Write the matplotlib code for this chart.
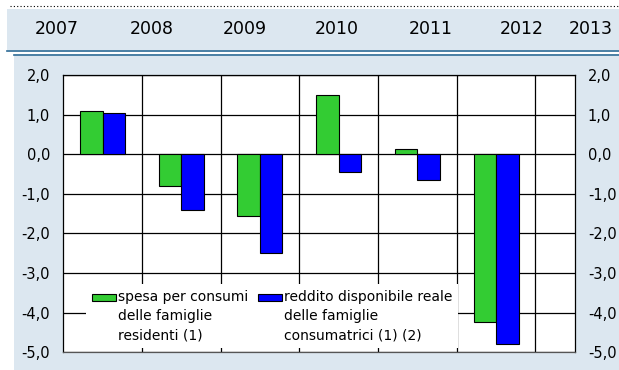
import matplotlib.pyplot as plt
from matplotlib.patches import Rectangle
from matplotlib.lines import Line2D
from matplotlib.ticker import FuncFormatter
from matplotlib.container import BarContainer
from matplotlib.legend_handler import HandlerPatch, update_from_first_child

# dati (variazioni percentuali)
anni = ['2007', '2008', '2009', '2010', '2011', '2012']
anni_testata = ['2007', '2008', '2009', '2010', '2011', '2012', '2013']
spesa = [1.1, -0.8, -1.55, 1.5, 0.12, -4.23]
reddito = [1.05, -1.42, -2.5, -0.44, -0.66, -4.78]
etichette = ['spesa per consumi\ndelle famiglie\nresidenti (1)',
             'reddito disponibile reale\ndelle famiglie\nconsumatrici (1) (2)']

W, H = 619, 370
azzurro = '#dce7f0'
blu_linea = '#2b6a95'

fig = plt.figure(figsize=(W / 100, H / 100), dpi=100)
fig.patch.set_facecolor('white')


def px(x, y):
    # pixel (dall'alto a sinistra) -> coordinate figura
    return x / W, 1 - y / H


# fascia con gli anni
x0, y0 = px(7, 50)
fig.patches.append(Rectangle((x0, y0), 1 - x0, 41 / H, transform=fig.transFigure,
                             facecolor=azzurro, edgecolor='none', zorder=-2))
# pannello del grafico
x0, y0 = px(14, 372)
fig.patches.append(Rectangle((x0, y0), 1 - x0, 316 / H, transform=fig.transFigure,
                             facecolor=azzurro, edgecolor='none', zorder=-2))
# linee di separazione
fig.lines.append(Line2D([7 / W, 1], [px(0, 51)[1]] * 2, transform=fig.transFigure,
                        color=blu_linea, lw=1.2, zorder=-1))
fig.lines.append(Line2D([14 / W, 1], [px(0, 54.5)[1]] * 2, transform=fig.transFigure,
                        color=blu_linea, lw=1.2, zorder=-1))
fig.lines.append(Line2D([10 / W, 1], [px(0, 6)[1]] * 2, transform=fig.transFigure,
                        color='black', lw=0.8, linestyle=(0, (1, 2)), zorder=-1))

xs_testata = [57, 152, 245, 337, 431, 522, 591]
for lab, xp in zip(anni_testata, xs_testata):
    fig.text(*px(xp, 28.5), lab, ha='center', va='center', fontsize=12.5)

# area del grafico
l, t = 63.3, 75
r, b = 574.7, 352.3
ax = fig.add_axes([l / W, 1 - b / H, (r - l) / W, (b - t) / H])
ax.set_facecolor('white')

pos = [i + 0.5 for i in range(len(anni))]
w = 0.286
b1 = ax.bar([p - w / 2 for p in pos], spesa, w, color='#33cc33',
            edgecolor='black', linewidth=0.8, zorder=3)
b2 = ax.bar([p + w / 2 for p in pos], reddito, w, color='#0000ff',
            edgecolor='black', linewidth=0.8, zorder=3)

ax.set_xlim(0, 6.5)
ax.set_ylim(-5, 2)
yt = [2, 1, 0, -1, -2, -3, -4, -5]
ax.set_yticks(yt)
ax.set_xticks([])
for v in yt:
    ax.axhline(v, color='black', lw=0.9, zorder=1)
for k in range(1, 7):
    ax.axvline(k, color='black', lw=0.9, zorder=1)

fmt = FuncFormatter(lambda v, _: f'{v:.1f}'.replace('.', ','))
ax.yaxis.set_major_formatter(fmt)
ax.tick_params(axis='y', length=0, pad=9.5, labelsize=10.5,
               left=True, right=True, labelleft=True, labelright=True)
for s in ax.spines.values():
    s.set_color('black')
    s.set_linewidth(0.9)
ax.spines['bottom'].set_color('#555555')

INTERLINEA = 1.45


def patch_in_alto(legend, orig_handle, xdescent, ydescent, width, height, fontsize):
    # il quadratino va all'altezza della prima riga dell'etichetta
    dy = fontsize * 1.2 * INTERLINEA - 3.5
    return Rectangle((-xdescent, -ydescent + dy), width, height)


leg = ax.legend([b1, b2], etichette, ncol=2, loc='upper left',
                bbox_to_anchor=((86 - l) / (r - l), (b - 284) / (b - t)),
                fontsize=10, frameon=True, facecolor='white', edgecolor='none',
                fancybox=False, framealpha=1, handlelength=1.7, handleheight=0.45,
                handletextpad=0.15, columnspacing=0.7, borderpad=0.45,
                borderaxespad=0,
                handler_map={BarContainer: HandlerPatch(patch_func=patch_in_alto,
                                                        update_func=update_from_first_child)})
for txt in leg.get_texts():
    txt.set_linespacing(INTERLINEA)
leg.set_zorder(5)

fig.savefig('out.png', dpi=100)
